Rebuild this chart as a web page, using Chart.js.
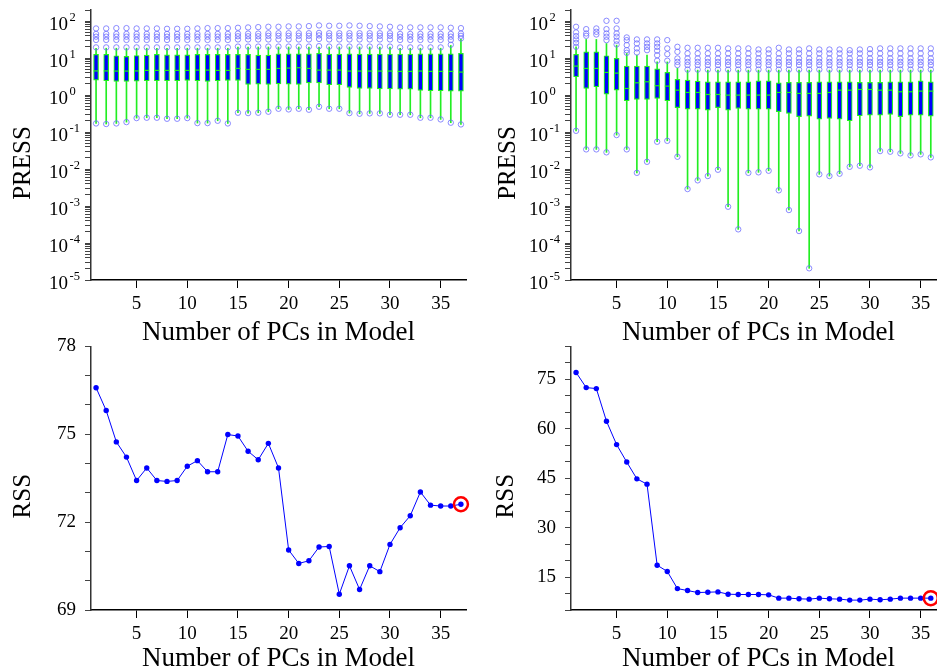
<!DOCTYPE html>
<html>
<head>
<meta charset="utf-8">
<script src="https://cdn.jsdelivr.net/npm/chart.js@4.4.0/dist/chart.umd.min.js"></script>
<style>
html, body { margin:0; padding:0; background:#fff; width:937px; height:672px; overflow:hidden; }
canvas { position:absolute; }
</style>
</head>
<body>
<canvas id="pressLeft"></canvas>
<canvas id="pressRight"></canvas>
<canvas id="rssLeft"></canvas>
<canvas id="rssRight"></canvas>
<script>
// number of PCs in each model
var pcsLeft = [1,2,3,4,5,6,7,8,9,10,11,12,13,14,15,16,17,18,19,20,21,22,23,24,25,26,27,28,29,30,31,32,33,34,35,36,37];
var pcsRight = [1,2,3,4,5,6,7,8,9,10,11,12,13,14,15,16,17,18,19,20,21,22,23,24,25,26,27,28,29,30,31,32,33,34,35,36];
var pcTicks = [5,10,15,20,25,30,35];
var pressExponents = [2,1,0,-1,-2,-3,-4,-5];

// PRESS box plots, left model set
var pressLeftQ1 = [2.54,2.44,2.34,2.34,2.39,2.44,2.44,2.44,2.44,2.49,2.44,2.34,2.44,2.49,2.49,1.94,1.98,1.94,2.02,1.98,1.94,2.15,2.15,1.90,1.90,1.61,1.51,1.51,1.48,1.48,1.45,1.45,1.34,1.31,1.31,1.28,1.28];
var pressLeftMedian = [4.50,4.50,4.46,4.46,4.50,4.65,4.65,4.65,4.65,4.65,4.74,4.74,4.65,4.65,5.26,4.95,4.95,4.95,5.26,5.37,5.49,5.26,4.74,4.74,4.74,4.46,4.46,4.46,4.46,4.46,4.37,4.37,4.46,4.37,4.37,4.37,4.19];
var pressLeftQ3 = [12.6,12.6,11.6,11.1,11.8,12.05,12.6,12.3,12.3,12.3,12.6,12.6,12.6,12.6,12.6,12.6,12.05,12.05,13.1,13.1,13.1,13.1,13.4,12.8,12.8,13.1,12.8,12.8,12.8,12.8,12.8,12.8,13.1,13.1,13.1,13.1,13.4];
var pressLeftLow = [0.171,0.165,0.171,0.186,0.239,0.244,0.244,0.229,0.229,0.239,0.175,0.175,0.202,0.171,0.333,0.326,0.333,0.355,0.427,0.410,0.427,0.402,0.484,0.427,0.427,0.326,0.313,0.320,0.320,0.294,0.294,0.294,0.244,0.244,0.220,0.179,0.161];
var pressLeftHigh = [18.5,18.5,18.5,18.5,18.5,18.5,18.5,18.5,18.5,18.5,18.5,18.5,18.5,18.5,20,20,20,20,20,20,20,20,20,20,20,20,20,20,20,20,18.5,18.5,18.5,18.5,18.5,22,32];
var pressLeftOut = [
  [19.5,31,38,45,63.4],[19.5,31,38,45,63.4],[19.5,31,38,45,64.7],[19.5,31,38,45,64.7],[19.5,31,38,45,63.4],
  [19.5,31,38,45,63.4],[19.5,31,38,45,63.4],[19.5,31,38,45,62.1],[19.5,31,38,45,62.1],[19.5,31,38,45,62.1],
  [19.5,31,38,45,63.4],[19.5,31,38,45,64.7],[19.5,31,38,45,64.7],[19.5,31,38,45,64.7],[20.5,32,39,46,66.1],
  [20.5,32,39,46,67.5],[20.5,32,39,46,68.9],[20.5,32,40,47,70.4],[20.5,32,40,47,70.4],[20.5,32,40,47,71.9],
  [20.5,32,40,47,71.9],[20.5,32,40,47,73.4],[21,33,41,48,76.4],[20.5,32,40,47,74.9],[20.5,32,40,47,74.9],
  [20.5,32,40,47,76.4],[20.5,32,40,47,74.9],[20.5,32,40,47,73.4],[20.5,32,40,47,71.9],[20.5,32,40,47,70.4],
  [19.5,31,38,45,67.5],[19.5,31,38,45,67.5],[19.5,31,38,45,67.5],[19.5,31,38,45,67.5],[19.5,31,38,45,67.5],
  [23,31,38,45,66.1],[34,40,46,64.7]
];

// PRESS box plots, right model set
var pressRightQ1 = [3.13,1.51,1.68,1.06,1.36,0.703,0.764,0.764,0.813,0.703,0.455,0.419,0.419,0.393,0.455,0.393,0.436,0.419,0.419,0.419,0.355,0.320,0.260,0.271,0.225,0.234,0.225,0.202,0.276,0.288,0.288,0.300,0.260,0.288,0.288,0.271];
var pressRightMedian = [6.08,5.26,5.26,4.10,3.93,1.51,2.15,2.29,1.79,1.75,1.36,1.18,1.18,1.04,1.04,1.00,1.00,1.00,1.00,1.00,1.18,1.18,1.11,1.11,1.11,1.18,1.36,1.36,1.42,1.42,1.36,1.36,1.23,1.23,1.28,1.28];
var pressRightQ3 = [12.6,14.8,14.8,11.6,9.8,6.08,6.08,6.08,5.15,4.10,2.65,2.54,2.39,2.29,2.29,2.29,2.29,2.29,2.44,2.44,2.15,2.20,2.20,2.20,2.29,2.29,2.29,2.29,2.20,2.20,2.20,2.29,2.29,2.29,2.44,2.29];
var pressRightLow = [0.108,0.034,0.034,0.0283,0.083,0.034,0.0079,0.0157,0.0547,0.058,0.0215,0.00288,0.00495,0.00647,0.00957,0.000957,0.000234,0.0079,0.00815,0.0090,0.00266,0.00078,0.000211,0.0000207,0.0072,0.00647,0.00747,0.0115,0.0123,0.0111,0.0306,0.0294,0.0265,0.0234,0.0250,0.0207];
var pressRightHigh = [20.2,32,32,24.9,22.5,13.4,12,12,7.9,7.9,5.3,4.74,4.74,4.74,4.74,4.74,4.74,4.74,4.74,4.74,4.74,4.74,4.74,4.74,4.74,4.74,4.74,4.74,4.74,4.74,4.74,4.74,4.74,4.74,4.74,4.74];
var pressRightOut = [
  [20.2,25.9,32,39.3,49.4,70.3],[40.1,46.4,60.8],[43.6,51.5,63.4],[30.6,37.9,46.4,60.8,102],[23.4,29.4,37.9,46.4,63.4,102],
  [13.9,16.4,22.5,30.6,36.2],[14.2,18.3,24.9,32],[16.4,20.2,24.9,32],[8.5,12,15.8,20.2,24.9,32],[8.5,12.8,18.3,30.6],
  [6.5,7.9,9.8,14.8,20.2],
  [4.9,6.5,7.9,9.8,13.4,19],[4.9,6.5,7.9,9.8,13.4,19],[4.9,6.5,7.9,9.8,13.4,19],[4.9,6.5,7.9,9.8,13.4,19],
  [4.9,6.5,7.9,9.8,13.4,18.3],[4.9,6.5,7.9,9.8,13.4,18.3],[4.9,6.5,7.9,9.8,13.4,18.3],[4.9,6.5,7.9,9.8,13.4,17.1],
  [4.9,6.5,7.9,9.8,13.4,17.1],[4.9,6.5,7.9,9.8,13.4,19],[4.9,6.5,7.9,9.8,13.4,17.1],[4.9,6.5,7.9,9.8,13.4,17.1],
  [4.9,6.5,7.9,9.8,13.4,18.3],[4.9,6.5,7.9,9.8,13.4,17.1],[4.9,6.5,7.9,9.8,13.4,17.1],[4.9,6.5,7.9,9.8,13.4,17.1],
  [4.9,6.5,7.9,9.8,13.4,16.4],[4.9,6.5,7.9,9.8,13.4,17.1],[4.9,6.5,7.9,9.8,13.4,17.5],[4.9,6.5,7.9,9.8,13.4,18.3],
  [4.9,6.5,7.9,9.8,13.4,18.3],[4.9,6.5,7.9,9.8,13.4,18.3],[4.9,6.5,7.9,9.8,13.4,18.3],[4.9,6.5,7.9,9.8,13.4,18.3],
  [4.9,6.5,7.9,9.8,13.4,18.3]
];

// RSS per model size
var rssLeft = [76.59,75.81,74.74,74.22,73.42,73.85,73.42,73.39,73.42,73.91,74.10,73.72,73.72,74.99,74.94,74.42,74.13,74.69,73.85,71.05,70.59,70.68,71.15,71.17,69.54,70.51,69.70,70.51,70.31,71.24,71.81,72.22,73.03,72.58,72.55,72.55,72.61];
var rssRight = [77.1,72.5,72.2,62.3,55.2,49.9,44.8,43.2,18.6,16.7,11.5,10.9,10.3,10.4,10.5,9.8,9.7,9.7,9.7,9.6,8.6,8.6,8.4,8.3,8.6,8.4,8.3,8.0,8.0,8.3,8.1,8.3,8.6,8.6,8.6,8.6];
var rssLeftLabels = [69,72,75,78];
var rssRightLabels = [15,30,45,60,75];

Chart.defaults.font.family = '"Liberation Serif", "Times New Roman", serif';
Chart.defaults.color = '#000';
Chart.defaults.animation = false;

var green = '#22ee22';
var blue = '#0000ff';
var ringColor = 'rgba(110,110,255,0.8)';

// y titles and the 10^n labels are drawn by hand
var axisText = {
  id: 'axisText',
  afterDraw: function(chart, args, o) {
    var ctx = chart.ctx, a = chart.chartArea;
    ctx.save();
    ctx.fillStyle = '#000';
    if (o.exponents) {
      var ys = chart.scales.y;
      o.exponents.forEach(function(e) {
        var y = ys.getPixelForValue(Math.pow(10, e));
        var baseRight = a.left - 23;
        ctx.textBaseline = 'alphabetic';
        ctx.font = '19px "Liberation Serif"';
        ctx.textAlign = 'right';
        ctx.fillText('10', baseRight, y + 8.5);
        ctx.font = '12.5px "Liberation Serif"';
        ctx.textAlign = 'left';
        ctx.fillText(String(e), baseRight + 1.5, y - 0.5);
      });
    }
    ctx.translate(a.left - o.titleGap, (a.top + a.bottom) / 2 + 18);
    ctx.rotate(-Math.PI / 2);
    ctx.font = '25px "Liberation Serif"';
    ctx.textAlign = 'center';
    ctx.textBaseline = 'middle';
    ctx.fillText(o.title, 0, 0);
    ctx.restore();
  }
};

function place(id, area) {
  var cv = document.getElementById(id);
  cv.width = area.right - area.left + 90 + 14;
  cv.height = area.bottom - area.top + 14 + 70;
  cv.style.left = (area.left - 90) + 'px';
  cv.style.top = (area.top - 14) + 'px';
  return cv;
}

function pcAxis(titlePad) {
  return {
    type: 'linear', min: 0.5, max: 37.5, offset: false,
    afterBuildTicks: function(s) { s.ticks = pcTicks.map(function(v) { return {value: v}; }); },
    afterFit: function(s) { s.height = 70; },
    grid: {drawOnChartArea: false, drawTicks: true, tickLength: 8, color: '#000', offset: false},
    border: {display: true, color: '#000', width: 1.5},
    ticks: {font: {size: 19}, padding: 4.5, autoSkip: false, maxRotation: 0},
    title: {display: true, text: 'Number of PCs in Model', font: {size: 27}, padding: {top: 0, bottom: titlePad}}
  };
}

function pressAxis() {
  return {
    type: 'logarithmic', min: 1e-5, max: 200,
    afterBuildTicks: function(s) {
      var t = [];
      for (var e = -5; e <= 2; e++) {
        for (var m = 1; m <= 9; m++) {
          var v = m * Math.pow(10, e);
          if (v <= 200) t.push({value: v, major: m === 1});
        }
      }
      s.ticks = t;
    },
    afterFit: function(s) { s.width = 90; },
    grid: {drawOnChartArea: false, tickLength: 6, color: '#444'},
    border: {display: true, color: '#333', width: 1.5},
    ticks: {display: false, autoSkip: false}
  };
}

function rssAxis(min, max, step, labels) {
  return {
    type: 'linear', min: min, max: max,
    afterBuildTicks: function(s) {
      var t = [];
      for (var v = min; v <= max + 1e-9; v += step) t.push({value: v});
      s.ticks = t;
    },
    afterFit: function(s) { s.width = 90; },
    grid: {drawOnChartArea: false, tickLength: 6, color: '#444'},
    border: {display: true, color: '#333', width: 1.5},
    ticks: {autoSkip: false, padding: 9, font: {size: 19},
      callback: function(v) { return labels.indexOf(v) >= 0 ? String(v) : ''; }}
  };
}

function boxSets(pcs, q1, med, q3, low, high, out) {
  var whisk = [], boxes = [], meds = [], rings = [];
  for (var i = 0; i < pcs.length; i++) {
    whisk.push({x: pcs[i], y: [low[i], high[i]]});
    boxes.push({x: pcs[i], y: [q1[i], q3[i]]});
    meds.push({x: pcs[i], y: med[i]});
    rings.push({x: pcs[i], y: low[i]});
    for (var k = 0; k < out[i].length; k++) rings.push({x: pcs[i], y: out[i][k]});
  }
  return [
    {type: 'scatter', data: rings, pointStyle: 'circle', pointRadius: 2.7,
      pointBackgroundColor: 'rgba(0,0,0,0)', pointBorderColor: ringColor, pointBorderWidth: 1},
    {type: 'scatter', data: meds, pointStyle: 'line', pointRadius: 2.5,
      pointBorderColor: green, pointBorderWidth: 1.2},
    {type: 'bar', data: boxes, grouped: false, barThickness: 5, backgroundColor: blue,
      borderColor: green, borderWidth: 1.2, borderSkipped: false},
    {type: 'bar', data: whisk, grouped: false, barThickness: 1, backgroundColor: green, borderWidth: 0}
  ];
}

function lineSets(pcs, rss) {
  var pts = pcs.map(function(p, i) { return {x: p, y: rss[i]}; });
  return [
    {type: 'scatter', data: [pts[pts.length - 1]], pointRadius: 7, pointBackgroundColor: 'rgba(0,0,0,0)',
      pointBorderColor: '#ff0000', pointBorderWidth: 2.5, clip: false},
    {type: 'scatter', data: pts, showLine: true, borderColor: blue, borderWidth: 1,
      pointRadius: 2.7, pointBackgroundColor: blue, pointBorderColor: blue, pointBorderWidth: 0, clip: false}
  ];
}

function makeChart(id, area, datasets, yAxis, titlePad, text) {
  return new Chart(place(id, area), {
    type: 'scatter',
    data: {datasets: datasets},
    options: {
      responsive: false,
      devicePixelRatio: 1,
      layout: {padding: {top: 14, right: 14, left: 0, bottom: 0}},
      scales: {x: pcAxis(titlePad), y: yAxis},
      plugins: {legend: {display: false}, tooltip: {enabled: false}, axisText: text}
    },
    plugins: [axisText]
  });
}

makeChart('pressLeft', {left: 91, right: 466, top: 10, bottom: 280},
  boxSets(pcsLeft, pressLeftQ1, pressLeftMedian, pressLeftQ3, pressLeftLow, pressLeftHigh, pressLeftOut),
  pressAxis(), 1.2, {title: 'PRESS', titleGap: 68, exponents: pressExponents});

makeChart('pressRight', {left: 571, right: 946, top: 10, bottom: 280},
  boxSets(pcsRight, pressRightQ1, pressRightMedian, pressRightQ3, pressRightLow, pressRightHigh, pressRightOut),
  pressAxis(), 1.2, {title: 'PRESS', titleGap: 63, exponents: pressExponents});

makeChart('rssLeft', {left: 91, right: 466, top: 340, bottom: 610},
  lineSets(pcsLeft, rssLeft), rssAxis(69, 78, 1, rssLeftLabels), 4.6, {title: 'RSS', titleGap: 68});

makeChart('rssRight', {left: 571, right: 946, top: 340, bottom: 610},
  lineSets(pcsRight, rssRight), rssAxis(5, 85, 5, rssRightLabels), 4.6, {title: 'RSS', titleGap: 65});
</script>
</body>
</html>
